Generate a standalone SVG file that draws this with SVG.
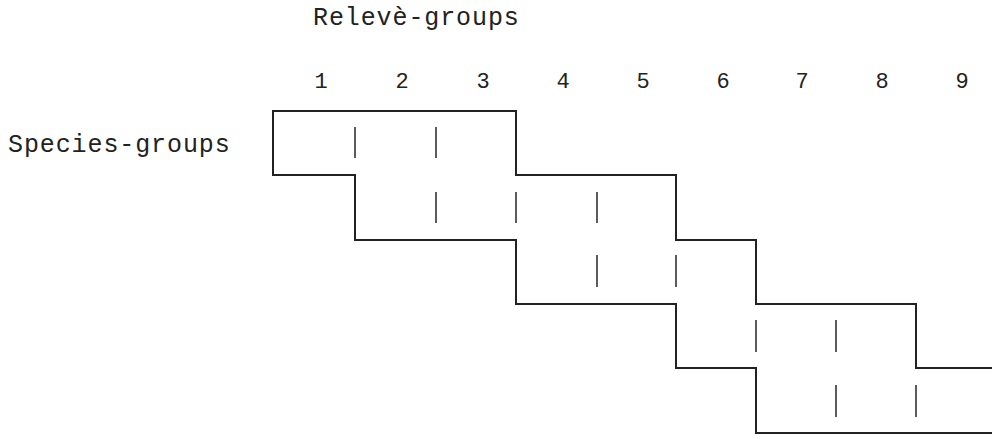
<svg xmlns="http://www.w3.org/2000/svg" width="992" height="439" viewBox="0 0 992 439">
<style>
.t{font-family:"Liberation Mono","Courier New",monospace;font-size:25px;letter-spacing:0.9px;fill:#222}
.d{font-family:"Liberation Mono","Courier New",monospace;font-size:22px;fill:#222}
.b{fill:none;stroke:#222;stroke-width:2}
.k{stroke:#333;stroke-width:1.6}
</style>
<rect width="992" height="439" fill="#fff"/>
<g id="labels">
<text class="t" x="313" y="25">Relevè-groups</text>
<text class="t" x="8" y="152">Species-groups</text>
</g>
<g id="columns" class="d" text-anchor="middle">
<text x="321" y="88">1</text>
<text x="402" y="88">2</text>
<text x="483" y="88">3</text>
<text x="563" y="88">4</text>
<text x="643" y="88">5</text>
<text x="723" y="88">6</text>
<text x="802" y="88">7</text>
<text x="882" y="88">8</text>
<text x="962" y="88">9</text>
</g>
<g id="connectors">
<path class="b" d="M273,175 V111 H516 V175 H676 V240 H756 V304 H916 V368 H995"/>
<path class="b" d="M273,111 V175 H355 V240 H516 V304 H676 V368 H756 V433 H995"/>
<g class="k">
<line x1="355" y1="127" x2="355" y2="158"/>
<line x1="436" y1="127" x2="436" y2="158"/>
<line x1="436" y1="192" x2="436" y2="223"/>
<line x1="516" y1="192" x2="516" y2="223"/>
<line x1="597" y1="192" x2="597" y2="223"/>
<line x1="597" y1="255" x2="597" y2="287"/>
<line x1="676" y1="255" x2="676" y2="287"/>
<line x1="756" y1="320" x2="756" y2="352"/>
<line x1="836" y1="320" x2="836" y2="352"/>
<line x1="836" y1="385" x2="836" y2="417"/>
<line x1="916" y1="385" x2="916" y2="417"/>
</g>
</g>
</svg>
